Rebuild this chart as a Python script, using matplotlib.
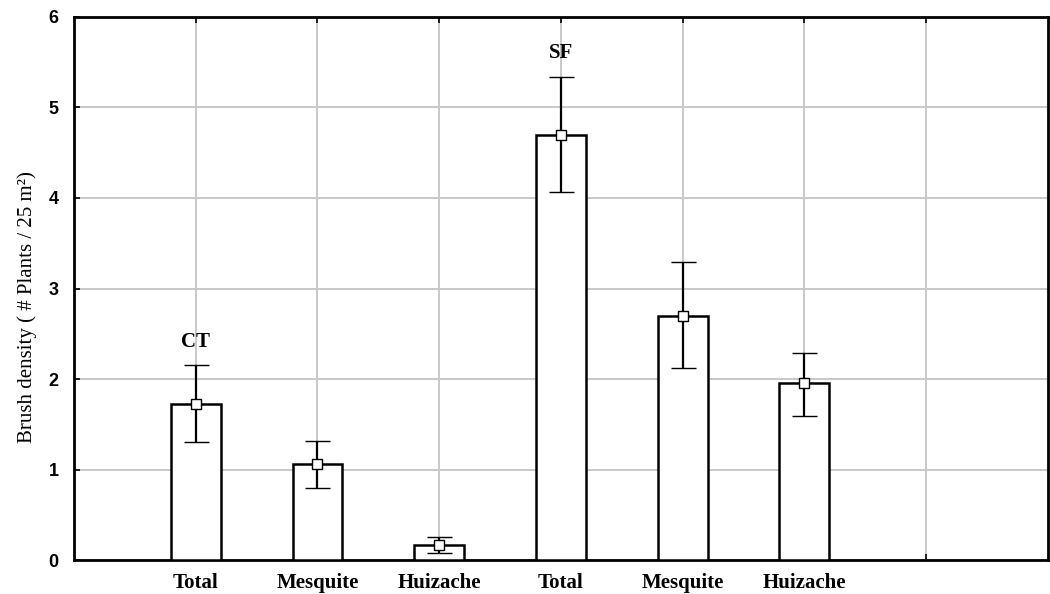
import numpy as np
from matplotlib import pyplot as plt

# brush density per treatment (CT / SF) and species
labels = ["Total", "Mesquite", "Huizache", "Total", "Mesquite", "Huizache"]
means = [1.72, 1.06, 0.17, 4.70, 2.70, 1.96]
upper = [2.15, 1.31, 0.25, 5.34, 3.29, 2.29]
lower = [1.30, 0.80, 0.08, 4.07, 2.12, 1.59]
groups = [("CT", 0), ("SF", 3)]

x = np.arange(1, len(labels) + 1)
means = np.array(means)
err = [means - np.array(lower), np.array(upper) - means]

fig = plt.figure(figsize=(10.5, 5.94), dpi=100)
ax = fig.add_axes([0.0705, 0.0572, 0.9275, 0.9142])

ax.bar(x, means, width=0.41, color='white', edgecolor='black', linewidth=1.8, zorder=3)
ax.errorbar(x, means, yerr=err, fmt='s', ms=7, mfc='white', mec='black', mew=1.0,
            ecolor='black', elinewidth=1.6, capsize=9, capthick=1.6, zorder=4)

for name, i in groups:
    ax.text(x[i], upper[i] + 0.15, name, ha='center', va='bottom',
            fontsize=15, fontweight='bold', family='Liberation Serif')

ax.set_xlim(0, 8)
ax.set_ylim(0, 6)
# an extra empty slot at 7 keeps the last grid line
ax.set_xticks(np.arange(1, 8))
ax.set_xticklabels(labels + [""], fontsize=15, fontweight='bold', family='Liberation Serif')
ax.set_yticks(range(7))
ax.set_yticklabels([str(v) for v in range(7)], fontsize=13, fontweight='bold',
                   family='Liberation Sans')
ax.tick_params(axis='both', direction='in', length=4, width=1.2, top=True)
ax.tick_params(axis='x', pad=9)
ax.tick_params(axis='y', pad=11)

ax.grid(True, color='#c8c8c8', linewidth=1.4, zorder=0)
ax.set_axisbelow(True)
for s in ax.spines.values():
    s.set_linewidth(2.0)

ax.set_ylabel("Brush density ( # Plants / 25 m²)", fontsize=15, family='Liberation Serif')
ax.yaxis.set_label_coords(-0.038, 0.465)

plt.savefig("out.png", dpi=100)
